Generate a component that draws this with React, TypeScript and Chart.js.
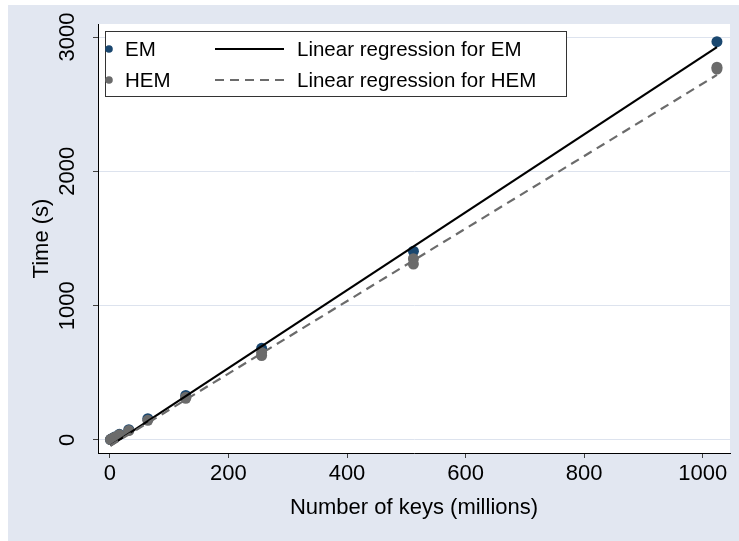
import React, { useEffect, useRef } from "react";
import { Chart, registerables } from "chart.js";

Chart.register(...registerables);

// Data
const keysEM = [1, 2, 4, 8, 16, 32, 64, 128, 256, 512, 1024];
const timeEM = [3, 6, 11, 22, 42, 76, 158, 332, 682, 1405, 2965];
const keysHEM = [1, 2, 4, 8, 16, 32, 64, 128, 128, 256, 256, 512, 512, 1024, 1024];
const timeHEM = [3, 5, 10, 20, 39, 70, 146, 310, 318, 652, 628, 1350, 1310, 2775, 2762];
const fitX = [1, 1024];
const fitEM = [-42, 2925];
const fitHEM = [-43, 2718];
const xTicks = [0, 200, 400, 600, 800, 1000];
const yTicks = [0, 1000, 2000, 3000];
const labels = ["EM", "HEM", "Linear regression for EM", "Linear regression for HEM"];

const NAVY = "#1a476f";
const GRAY = "#6b6b6b";
const BG = "#e2e7f1";
const GRID = "#dde3ee";
const FONT = "'Liberation Sans', Arial, Helvetica, sans-serif";

const toXY = (xs: number[], ys: number[]) => xs.map((x, i) => ({ x, y: ys[i] }));

const plotBg = {
  id: "plotBg",
  beforeDraw(chart: any) {
    const { ctx, chartArea } = chart;
    ctx.save();
    ctx.fillStyle = "#ffffff";
    ctx.fillRect(chartArea.left, chartArea.top, chartArea.right - chartArea.left, chartArea.bottom - chartArea.top);
    ctx.restore();
  },
};

const stataLegend = {
  id: "stataLegend",
  afterDraw(chart: any) {
    const { ctx } = chart;
    const ds = chart.data.datasets;
    ctx.save();
    const bx = 97, by = 26, bw = 461, bh = 65;
    ctx.fillStyle = "#ffffff";
    ctx.fillRect(bx, by, bw, bh);
    ctx.strokeStyle = "#333333";
    ctx.lineWidth = 1;
    ctx.strokeRect(bx + 0.5, by + 0.5, bw, bh);
    const rows = [44, 75];
    ctx.font = `20.5px ${FONT}`;
    ctx.textBaseline = "middle";
    ctx.textAlign = "left";
    [0, 1].forEach((i) => {
      ctx.beginPath();
      ctx.fillStyle = ds[i].backgroundColor;
      ctx.arc(101, rows[i], 3.8, 0, Math.PI * 2);
      ctx.fill();
      ctx.fillStyle = "#000";
      ctx.fillText(ds[i].label, 117, rows[i] + 1);
    });
    [2, 3].forEach((i, r) => {
      ctx.beginPath();
      ctx.strokeStyle = ds[i].borderColor;
      ctx.lineWidth = ds[i].borderWidth;
      ctx.setLineDash(ds[i].borderDash || []);
      ctx.moveTo(207, rows[r]);
      ctx.lineTo(276, rows[r]);
      ctx.stroke();
      ctx.setLineDash([]);
      ctx.fillStyle = "#000";
      ctx.fillText(ds[i].label, 289, rows[r] + 1);
    });
    ctx.restore();
  },
};

export default function App() {
  const ref = useRef<HTMLCanvasElement>(null);
  useEffect(() => {
    if (!ref.current) return;
    const chart = new Chart(ref.current, {
      type: "scatter",
      data: {
        datasets: [
          {
            label: labels[0],
            data: toXY(keysEM, timeEM),
            backgroundColor: NAVY,
            borderColor: NAVY,
            borderWidth: 0,
            pointRadius: 5.5,
            order: 3,
          },
          {
            label: labels[1],
            data: toXY(keysHEM, timeHEM),
            backgroundColor: GRAY,
            borderColor: GRAY,
            borderWidth: 0,
            pointRadius: 5.5,
            order: 2,
          },
          {
            type: "line",
            label: labels[2],
            data: toXY(fitX, fitEM),
            borderColor: "#000000",
            backgroundColor: "#000000",
            borderWidth: 2.2,
            pointRadius: 0,
            showLine: true,
            order: 1,
          },
          {
            type: "line",
            label: labels[3],
            data: toXY(fitX, fitHEM),
            borderColor: GRAY,
            backgroundColor: GRAY,
            borderWidth: 2.2,
            borderDash: [9, 6],
            pointRadius: 0,
            showLine: true,
            order: 0,
          },
        ] as any,
      },
      options: {
        animation: false,
        responsive: false,
        layout: { padding: { top: 19, right: 9, left: 0, bottom: 0 } },
        plugins: {
          legend: { display: false },
          tooltip: { enabled: false },
        },
        scales: {
          x: {
            type: "linear",
            min: -20,
            max: 1046,
            afterBuildTicks: (s: any) => {
              s.ticks = xTicks.map((v) => ({ value: v }));
            },
            afterFit: (s: any) => {
              s.height = 88;
            },
            grid: {
              drawOnChartArea: false,
              drawTicks: true,
              tickLength: 5,
              tickColor: "#404040",
            },
            border: { display: true, color: "#000", width: 1 },
            ticks: {
              color: "#000",
              font: { family: FONT, size: 22 },
              padding: 3,
              maxRotation: 0,
              autoSkip: false,
              callback: (v: any) => String(v),
            },
            title: {
              display: true,
              text: "Number of keys (millions)",
              color: "#000",
              font: { family: FONT, size: 22 },
              padding: { top: 0, bottom: 20 },
            },
          },
          y: {
            type: "linear",
            min: -97,
            max: 3097,
            afterBuildTicks: (s: any) => {
              s.ticks = yTicks.map((v) => ({ value: v }));
            },
            afterFit: (s: any) => {
              s.width = 90;
            },
            grid: {
              color: GRID,
              lineWidth: 1,
              drawTicks: true,
              tickLength: 5,
              tickColor: "#404040",
            },
            border: { display: true, color: "#000", width: 1 },
            ticks: {
              color: "#000",
              font: { family: FONT, size: 22 },
              padding: 1,
              minRotation: 90,
              maxRotation: 90,
              crossAlign: "center",
              autoSkip: false,
              callback: (v: any) => String(v),
            },
            title: {
              display: true,
              text: "Time (s)",
              color: "#000",
              font: { family: FONT, size: 22 },
              padding: { top: 21, bottom: 0 },
            },
          },
        },
      } as any,
      plugins: [plotBg, stataLegend],
    });
    return () => chart.destroy();
  }, []);

  return (
    <div
      style={{
        position: "absolute",
        left: 8,
        top: 5,
        width: 731,
        height: 536,
        background: BG,
      }}
    >
      <canvas ref={ref} width={731} height={536} style={{ display: "block" }} />
    </div>
  );
}
